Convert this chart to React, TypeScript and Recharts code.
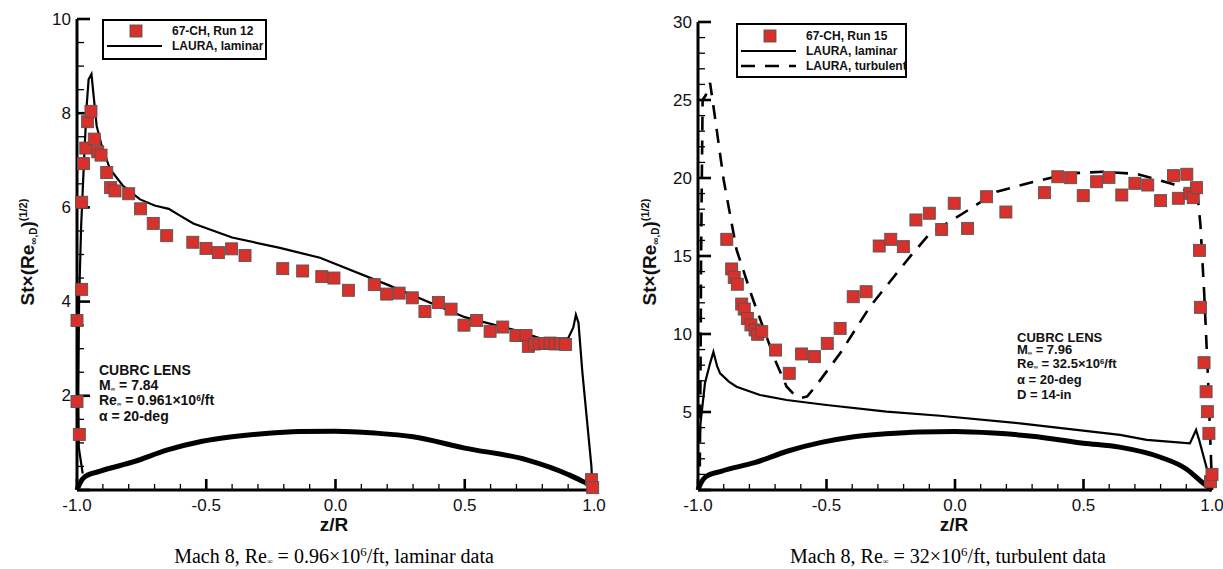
import React from 'react';
import { ComposedChart, Line, Scatter, XAxis, YAxis } from 'recharts';

// ---- left panel: Mach 8, laminar (run 12) ----
const run12: [number, number][] = [
  [-1.0, 3.6], [-1.0, 1.88], [-0.991, 1.18], [-0.982, 4.26], [-0.982, 6.11], [-0.975, 6.93],
  [-0.966, 7.26], [-0.959, 7.82], [-0.946, 8.04], [-0.933, 7.45], [-0.92, 7.18], [-0.907, 7.11],
  [-0.885, 6.74], [-0.87, 6.42], [-0.853, 6.35], [-0.8, 6.29], [-0.754, 5.97], [-0.705, 5.66],
  [-0.653, 5.4], [-0.552, 5.26], [-0.501, 5.13], [-0.453, 5.04], [-0.402, 5.12], [-0.35, 4.98],
  [-0.204, 4.7], [-0.127, 4.65], [-0.053, 4.53], [-0.006, 4.5], [0.05, 4.24], [0.15, 4.36],
  [0.198, 4.16], [0.246, 4.18], [0.297, 4.08], [0.346, 3.79], [0.398, 3.98], [0.447, 3.84],
  [0.497, 3.5], [0.546, 3.6], [0.598, 3.37], [0.647, 3.46], [0.698, 3.28], [0.737, 3.28],
  [0.746, 3.05], [0.77, 3.1], [0.79, 3.11], [0.81, 3.11], [0.83, 3.12], [0.85, 3.1],
  [0.87, 3.11], [0.89, 3.09], [0.99, 0.22], [0.995, 0.05],
];

const laminar12: [number, number][] = [
  [-0.978, 0.35], [-0.993, 0.9], [-0.995, 2.0], [-0.992, 4.0], [-0.984, 5.6], [-0.972, 7.1],
  [-0.962, 8.2], [-0.955, 8.72], [-0.944, 8.83], [-0.937, 8.44], [-0.924, 7.73], [-0.904, 7.3],
  [-0.872, 6.81], [-0.821, 6.45], [-0.756, 6.17], [-0.7, 6.04], [-0.645, 5.97], [-0.6, 5.82],
  [-0.55, 5.66], [-0.4, 5.36], [-0.215, 5.14], [-0.06, 4.93], [0.2, 4.36], [0.5, 3.67],
  [0.69, 3.4], [0.78, 3.24], [0.82, 3.18], [0.87, 3.16], [0.9, 3.22], [0.92, 3.45],
  [0.93, 3.72], [0.94, 3.55], [0.955, 2.5], [0.99, 0.5], [0.993, 0.12],
];

const body12: [number, number][] = [
  [-1, 0], [-0.99, 0.13], [-0.97, 0.28], [-0.91, 0.4], [-0.78, 0.6], [-0.65, 0.85],
  [-0.52, 1.03], [-0.4, 1.13], [-0.27, 1.2], [-0.14, 1.24], [0, 1.25], [0.15, 1.21],
  [0.3, 1.13], [0.5, 0.89], [0.74, 0.64], [0.9, 0.33], [0.95, 0.2], [0.99, 0.07], [1.0, 0],
];

// ---- right panel: Mach 8, turbulent (run 15) ----
const run15: [number, number][] = [
  [-0.888, 16.07], [-0.869, 14.17], [-0.859, 13.63], [-0.847, 13.19], [-0.83, 11.92], [-0.82, 11.6],
  [-0.808, 11.0], [-0.794, 10.58], [-0.778, 10.26], [-0.768, 9.98], [-0.752, 10.15], [-0.698, 8.97],
  [-0.645, 7.48], [-0.597, 8.72], [-0.547, 8.55], [-0.497, 9.4], [-0.447, 10.36], [-0.396, 12.39],
  [-0.346, 12.71], [-0.295, 15.64], [-0.25, 16.07], [-0.201, 15.6], [-0.152, 17.31], [-0.1, 17.74],
  [-0.052, 16.7], [-0.003, 18.38], [0.049, 16.77], [0.123, 18.8], [0.198, 17.82], [0.348, 19.06],
  [0.4, 20.08], [0.45, 20.02], [0.499, 18.87], [0.551, 19.76], [0.599, 20.04], [0.649, 18.91],
  [0.7, 19.66], [0.75, 19.55], [0.8, 18.55], [0.85, 20.15], [0.869, 18.7], [0.902, 20.24],
  [0.914, 19.02], [0.927, 18.74], [0.94, 19.38], [0.951, 15.36], [0.955, 11.71], [0.969, 8.16],
  [0.977, 6.3], [0.982, 5.02], [0.988, 3.63], [0.994, 0.53], [1.0, 1.0],
];

const laminar15: [number, number][] = [
  [-0.993, 3.5], [-0.99, 4.3], [-0.973, 6.84], [-0.953, 8.12], [-0.94, 8.85], [-0.925, 7.9],
  [-0.914, 7.48], [-0.88, 6.95], [-0.85, 6.62], [-0.759, 6.09], [-0.655, 5.77], [-0.5, 5.45],
  [-0.266, 5.02], [-0.058, 4.76], [0.253, 4.27], [0.642, 3.53], [0.746, 3.21], [0.914, 2.99],
  [0.938, 3.85], [0.95, 3.2], [0.999, 0.2],
];

const turbulent15: [number, number][] = [
  [-0.993, 1.5], [-0.99, 8], [-0.988, 15], [-0.985, 20], [-0.982, 25], [-0.97, 25.3],
  [-0.953, 26.1], [-0.94, 24.6], [-0.9, 19.87], [-0.85, 15.4], [-0.79, 12.4], [-0.746, 10.4],
  [-0.7, 8.33], [-0.655, 6.62], [-0.625, 6.1], [-0.6, 5.9], [-0.575, 6.0], [-0.54, 6.7],
  [-0.447, 8.76], [-0.331, 11.75], [-0.175, 14.96], [-0.1, 16.4], [0.032, 17.74], [0.162, 19.12],
  [0.292, 19.7], [0.447, 20.3], [0.577, 20.4], [0.707, 20.26], [0.85, 19.6], [0.92, 19.0],
  [0.94, 19.5], [0.955, 17.0], [0.97, 12.5], [0.985, 7.0], [0.995, 2.5], [1.0, 0.3],
];

const body15: [number, number][] = [
  [-1, 0], [-0.99, 0.4], [-0.97, 0.85], [-0.91, 1.2], [-0.78, 1.75], [-0.65, 2.5],
  [-0.52, 3.05], [-0.4, 3.4], [-0.27, 3.6], [-0.14, 3.72], [0, 3.75], [0.15, 3.65],
  [0.3, 3.45], [0.5, 3.0], [0.64, 2.75], [0.8, 2.1], [0.9, 1.35], [0.966, 0.43], [1.0, 0],
];

// ---- ticks ----
const zMinor = [-0.9, -0.8, -0.7, -0.6, -0.4, -0.3, -0.2, -0.1, 0.1, 0.2, 0.3, 0.4, 0.6, 0.7, 0.8, 0.9];
const zMajor = [-1, -0.5, 0, 0.5, 1];
const stMinor12 = [0.5, 1, 1.5, 2.5, 3, 3.5, 4.5, 5, 5.5, 6.5, 7, 7.5, 8.5, 9, 9.5];
const stMajor12 = [0, 2, 4, 6, 8, 10];
const stMinor15 = [1, 2, 3, 4, 6, 7, 8, 9, 11, 12, 13, 14, 16, 17, 18, 19, 21, 22, 23, 24, 26, 27, 28, 29];
const stMajor15 = [0, 5, 10, 15, 20, 25, 30];

const toPts = (a: [number, number][]) => a.map(([x, y]) => ({ x, y }));

const SANS = '"Liberation Sans", Arial, Helvetica, sans-serif';
const SERIF = '"Liberation Serif", "Times New Roman", serif';
const RED = '#d8302a';

const yLabelTick = (props: any) => {
  const { x, y, payload } = props;
  if (payload.value === 0) return <g />;
  return (
    <text x={x - 6} y={y} textAnchor="end" dominantBaseline="central" fontFamily={SANS} fontSize={17} fill="#111">
      {payload.value}
    </text>
  );
};

const xLabelTick = (props: any) => {
  const { x, y, payload } = props;
  return (
    <text x={x} y={y + 15} textAnchor="middle" dominantBaseline="central" fontFamily={SANS} fontSize={17} fill="#111">
      {Number(payload.value).toFixed(1)}
    </text>
  );
};

const squareShape = (p: any) => (
  <rect x={p.cx - 6} y={p.cy - 6} width={12} height={12} fill={RED} stroke="#555" strokeWidth={0.9} />
);

// inward tick marks, placed by the chart's own scales
const yTickShape = (len: number, w: number) => (p: any) => (
  <rect x={p.cx} y={p.cy - w / 2} width={len} height={w} fill="#000" />
);
const xTickShape = (len: number, w: number) => (p: any) => (
  <rect x={p.cx - w / 2} y={p.cy - len} width={w} height={len} fill="#000" />
);

const sub = (t: string) => <sub style={{ fontSize: '45%', verticalAlign: '-0.15em' }}>{t}</sub>;

const YLabel = ({ left }: { left: number }) => (
  <div
    style={{
      position: 'absolute', left, top: 252, transform: 'translate(-50%,-50%) rotate(-90deg)',
      whiteSpace: 'nowrap', fontFamily: SANS, fontWeight: 'bold', fontSize: 19, color: '#111',
    }}
  >
    St×(Re<sub style={{ fontSize: 10, verticalAlign: '-0.3em' }}>∞,D</sub>)
    <sup style={{ fontSize: 11, verticalAlign: '0.7em' }}>(1/2)</sup>
  </div>
);

const XLabel = ({ left }: { left: number }) => (
  <div style={{ position: 'absolute', left, top: 525, transform: 'translate(-50%,-50%)', fontFamily: SANS, fontWeight: 'bold', fontSize: 19, color: '#111' }}>
    z/R
  </div>
);

const textLine = (left: number, top: number, content: React.ReactNode, size = 14) => (
  <div style={{ position: 'absolute', left, top, transform: 'translateY(-50%)', whiteSpace: 'nowrap', fontFamily: SANS, fontWeight: 'bold', fontSize: size, color: '#111', lineHeight: 1 }}>
    {content}
  </div>
);

const LegendRow = ({ kind, label }: { kind: 'square' | 'solid' | 'dash'; label: string }) => (
  <div style={{ display: 'flex', alignItems: 'center', height: 15 }}>
    <svg width={62} height={14} style={{ flex: 'none' }}>
      {kind === 'square' && <rect x={26} y={1} width={12} height={12} fill={RED} stroke="#555" strokeWidth={0.9} />}
      {kind === 'solid' && <line x1={3} x2={58} y1={7} y2={7} stroke="#000" strokeWidth={2.2} />}
      {kind === 'dash' && <line x1={3} x2={58} y1={7} y2={7} stroke="#000" strokeWidth={2.6} strokeDasharray="14 10" />}
    </svg>
    <span style={{ marginLeft: 6, fontFamily: SANS, fontWeight: 'bold', fontSize: 12, color: '#111', whiteSpace: 'nowrap' }}>{label}</span>
  </div>
);

const Panel = (props: {
  left: number; width: number; margin: { top: number; left: number; right: number; bottom: number };
  yMax: number; yMinor: number[]; yMajor: number[];
  points: [number, number][]; laminar: [number, number][]; body: [number, number][]; turbulent?: [number, number][];
}) => (
  <div style={{ position: 'absolute', left: props.left, top: 0 }}>
    <ComposedChart width={props.width} height={569} margin={props.margin}>
      <XAxis
        dataKey="x" type="number" domain={[-1, 1]} ticks={zMajor} interval={0} height={1}
        axisLine={{ stroke: '#000', strokeWidth: 3 }} tickLine={false} tickSize={0} tickMargin={0} tick={xLabelTick}
      />
      <YAxis
        type="number" domain={[0, props.yMax]} ticks={props.yMajor} interval={0} width={1}
        axisLine={{ stroke: '#000', strokeWidth: 3 }} tickLine={false} tickSize={0} tickMargin={0} tick={yLabelTick}
      />
      <Scatter data={props.yMajor.map((v) => ({ x: -1, y: v }))} dataKey="y" shape={yTickShape(13, 2.6)} isAnimationActive={false} legendType="none" />
      <Scatter data={props.yMinor.map((v) => ({ x: -1, y: v }))} dataKey="y" shape={yTickShape(7, 1.3)} isAnimationActive={false} legendType="none" />
      <Scatter data={zMajor.map((v) => ({ x: v, y: 0 }))} dataKey="y" shape={xTickShape(11, 2.6)} isAnimationActive={false} legendType="none" />
      <Scatter data={zMinor.map((v) => ({ x: v, y: 0 }))} dataKey="y" shape={xTickShape(6, 1.3)} isAnimationActive={false} legendType="none" />
      <Scatter data={toPts(props.points)} dataKey="y" shape={squareShape} isAnimationActive={false} />
      <Line data={toPts(props.body)} dataKey="y" type="monotone" stroke="#000" strokeWidth={5} dot={false} isAnimationActive={false} />
      <Line data={toPts(props.laminar)} dataKey="y" type="linear" stroke="#000" strokeWidth={2.2} dot={false} isAnimationActive={false} />
      {props.turbulent && (
        <Line data={toPts(props.turbulent)} dataKey="y" type="linear" stroke="#000" strokeWidth={2.6} strokeDasharray="14 10" dot={false} isAnimationActive={false} />
      )}
    </ComposedChart>
  </div>
);

export default function App() {
  return (
    <div style={{ position: 'absolute', left: 0, top: 0, width: 1223, height: 569, background: '#fff', overflow: 'hidden' }}>
      <Panel
        left={0} width={610} margin={{ top: 19, left: 76, right: 16, bottom: 78 }}
        yMax={10} yMinor={stMinor12} yMajor={stMajor12}
        points={run12} laminar={laminar12} body={body12}
      />
      <Panel
        left={612} width={611} margin={{ top: 22, left: 85, right: 11, bottom: 78 }}
        yMax={30} yMinor={stMinor15} yMajor={stMajor15}
        points={run15} laminar={laminar15} body={body15} turbulent={turbulent15}
      />

      {/* legends */}
      <div style={{ position: 'absolute', left: 102, top: 19, width: 161, height: 35, border: '2px solid #000', background: '#fff', paddingTop: 2, boxSizing: 'content-box' }}>
        <LegendRow kind="square" label="67-CH, Run 12" />
        <LegendRow kind="solid" label="LAURA, laminar" />
      </div>
      <div style={{ position: 'absolute', left: 736, top: 23, width: 167, height: 48, border: '2px solid #000', background: '#fff', paddingTop: 3, boxSizing: 'content-box' }}>
        <LegendRow kind="square" label="67-CH, Run 15" />
        <LegendRow kind="solid" label="LAURA, laminar" />
        <LegendRow kind="dash" label="LAURA, turbulent" />
      </div>

      {/* condition notes */}
      {textLine(99, 370, 'CUBRC LENS')}
      {textLine(99, 385, <>M{sub('∞')} = 7.84</>)}
      {textLine(99, 400, <>Re{sub('∞')} = 0.961×10<sup style={{ fontSize: '60%', verticalAlign: '0.5em' }}>6</sup>/ft</>)}
      {textLine(99, 416, <>α = 20-deg</>)}

      {textLine(1017, 337, 'CUBRC LENS', 13)}
      {textLine(1017, 350, <>M{sub('∞')} = 7.96</>, 13)}
      {textLine(1017, 364, <>Re{sub('∞')} = 32.5×10<sup style={{ fontSize: '60%', verticalAlign: '0.5em' }}>6</sup>/ft</>, 13)}
      {textLine(1017, 379, <>α = 20-deg</>, 13)}
      {textLine(1017, 394, <>D = 14-in</>, 13)}

      <YLabel left={28} />
      <YLabel left={650} />
      <XLabel left={334} />
      <XLabel left={954} />

      {/* captions */}
      <div style={{ position: 'absolute', left: 334, top: 556, transform: 'translate(-50%,-50%)', whiteSpace: 'nowrap', fontFamily: SERIF, fontSize: 20, color: '#000' }}>
        Mach 8, Re<sub style={{ fontSize: 8, verticalAlign: '-0.1em' }}>∞</sub> = 0.96×10<sup style={{ fontSize: 13, verticalAlign: '0.5em' }}>6</sup>/ft, laminar data
      </div>
      <div style={{ position: 'absolute', left: 948, top: 556, transform: 'translate(-50%,-50%)', whiteSpace: 'nowrap', fontFamily: SERIF, fontSize: 20, color: '#000' }}>
        Mach 8, Re<sub style={{ fontSize: 8, verticalAlign: '-0.1em' }}>∞</sub> = 32×10<sup style={{ fontSize: 13, verticalAlign: '0.5em' }}>6</sup>/ft, turbulent data
      </div>
    </div>
  );
}
